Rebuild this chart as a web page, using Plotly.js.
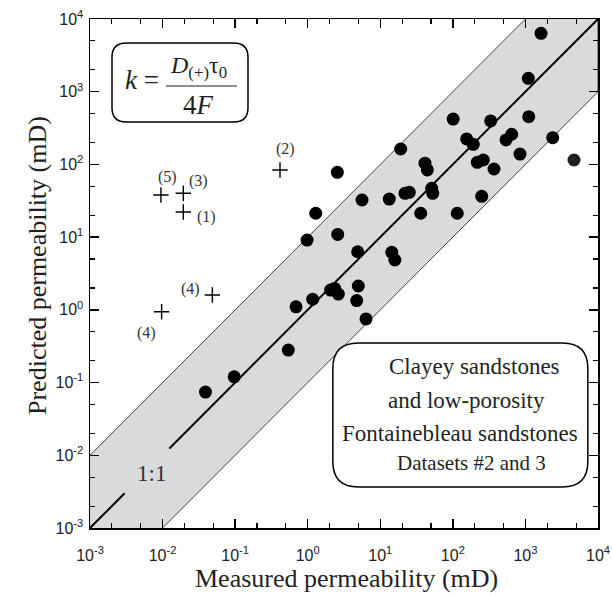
<!DOCTYPE html>
<html>
<head>
<meta charset="utf-8">
<script src="https://cdn.plot.ly/plotly-3.0.1.min.js"></script>
<style>html,body{margin:0;padding:0;background:#fff;}#plot{width:612px;height:597px;}</style>
</head>
<body>
<div id="plot"></div>
<script>
// Measured (x) vs predicted (y) permeability, mD — filled circles
const measured = [1640, 1096, 101, 332, 1110, 155, 191, 540, 647, 2376, 19.1, 41.3, 44.5, 217, 263, 369, 842,
  2.56, 5.6, 13.3, 21.9, 25.1, 51.1, 52.8, 250, 1.29, 36.1, 115, 0.98, 2.59, 4.88, 14.4, 15.9,
  2.07, 2.35, 2.64, 4.98, 1.17, 4.73, 0.69, 6.36, 0.54, 0.097, 0.039];
const predicted = [6357, 1529, 421, 396, 453, 224, 189, 217, 260, 233, 163, 104, 84, 107, 115, 86.5, 139,
  77.9, 32.4, 33.4, 40.1, 41.4, 46.9, 40.1, 36.4, 21.3, 21.3, 21.3, 9.1, 10.9, 6.3, 6.18, 4.85,
  1.87, 1.97, 1.65, 2.13, 1.40, 1.34, 1.10, 0.75, 0.28, 0.12, 0.074];
// the one dark-grey point at the far right
const measuredGrey = [4670];
const predictedGrey = [115];
// outliers drawn as crosses
const crossMeasured = [0.0193, 0.415, 0.0193, 0.0485, 0.0097, 0.0095];
const crossPredicted = [22.2, 83.8, 40.1, 1.6, 0.94, 38];
const crossLabels = ['(1)', '(2)', '(3)', '(4)', '(4)', '(5)'];
const crossLabelX = [0.0397, 0.497, 0.0311, 0.0239, 0.00604, 0.0116];
const crossLabelY = [19.1, 163, 59.2, 1.93, 0.476, 67.8];
// axis ticks
const tickExponents = [-3, -2, -1, 0, 1, 2, 3, 4];
const tickVals = tickExponents.map(e => Math.pow(10, e));
const tickText = tickExponents.map(e => '10<sup>' + e + '</sup>');
// 1:1 reference line and one-decade band
const axisMin = 1e-3, axisMax = 1e4, bandFactor = 10;
const lineBreak = [0.003, 0.0124];

const bandX = [axisMin, axisMax, axisMax, axisMin];
const bandY = [axisMin * bandFactor, axisMax * bandFactor, axisMax / bandFactor, axisMin / bandFactor];

const serif = 'Liberation Serif, Times New Roman, serif';
const sans = 'Liberation Sans, Arial, sans-serif';
const ink = '#231f20';

const traces = [
  {x: bandX, y: bandY, mode: 'lines', fill: 'toself', fillcolor: '#d9dadb',
   line: {color: '#333', width: 0.9}, hoverinfo: 'skip', showlegend: false},
  {x: [axisMin, lineBreak[0], null, lineBreak[1], axisMax], y: [axisMin, lineBreak[0], null, lineBreak[1], axisMax],
   mode: 'lines', line: {color: '#000', width: 2}, showlegend: false, connectgaps: false},
  {x: measured, y: predicted, mode: 'markers', marker: {color: '#000', size: 13}, showlegend: false},
  {x: measuredGrey, y: predictedGrey, mode: 'markers', marker: {color: '#231f20', size: 13}, showlegend: false},
  {x: crossMeasured, y: crossPredicted, mode: 'markers',
   marker: {symbol: 'cross-thin', size: 11, line: {color: '#000', width: 1.4}}, showlegend: false}
];

const annotations = crossLabels.map((t, i) => ({
  x: Math.log10(crossLabelX[i]), y: Math.log10(crossLabelY[i]), xref: 'x', yref: 'y',
  text: t, showarrow: false, font: {family: serif, size: 16, color: '#333'}
}));
annotations.push({x: Math.log10(0.0071), y: Math.log10(0.0056), xref: 'x', yref: 'y', text: '1:1',
  showarrow: false, font: {family: serif, size: 23, color: '#333'}});

function pap(px, py) { return {x: (px - 90) / 508, y: (528 - py) / 509}; }
function paperText(px, py, text, size, angle) {
  const p = pap(px, py);
  return {x: p.x, y: p.y, xref: 'paper', yref: 'paper', xanchor: 'center', yanchor: 'middle',
    text: text, showarrow: false, textangle: angle || 0, font: {family: serif, size: size, color: ink}};
}
// axis titles
annotations.push(paperText(346, 578, 'Measured permeability (mD)', 26));
annotations.push(paperText(37, 266, 'Predicted permeability (mD)', 26, -90));
// formula
annotations.push(paperText(142, 80, '<i>k</i> =', 27));
annotations.push(paperText(198, 67, '<i>D</i><sub>(+)</sub>τ<sub>0</sub>', 24));
annotations.push(paperText(198, 105, '4<i>F</i>', 27));
// info box text
const boxLines = ['Clayey sandstones', 'and low-porosity', 'Fontainebleau sandstones', 'Datasets #2 and 3'];
const boxLineX = [474, 466, 460, 471];
const boxLineY = [366, 400, 433, 463];
const boxLineSize = [23, 23, 23, 21];
boxLines.forEach((t, i) => annotations.push(paperText(boxLineX[i], boxLineY[i], t, boxLineSize[i])));

function roundRect(x0, y0, x1, y1, r) {
  return `M ${x0 + r},${y0} L ${x1 - r},${y0} Q ${x1},${y0} ${x1},${y0 + r} L ${x1},${y1 - r} Q ${x1},${y1} ${x1 - r},${y1} ` +
         `L ${x0 + r},${y1} Q ${x0},${y1} ${x0},${y1 - r} L ${x0},${y0 + r} Q ${x0},${y0} ${x0 + r},${y0} Z`;
}

const shapes = [
  {type: 'path', xref: 'paper', yref: 'paper', path: roundRect(0.0433, 0.7976, 0.311, 0.9528, 0.028),
   line: {color: '#000', width: 1.5}, fillcolor: 'white'},
  {type: 'line', xref: 'paper', yref: 'paper', x0: 0.1496, x1: 0.2894, y0: 0.8684, y1: 0.8684,
   line: {color: ink, width: 1.2}},
  {type: 'path', xref: 'paper', yref: 'paper', path: roundRect(0.478, 0.0806, 0.980, 0.3635, 0.05),
   line: {color: '#000', width: 1.5}, fillcolor: 'white'}
];

const axisCommon = {
  type: 'log', range: [-3, 4], tickmode: 'array', tickvals: tickVals, ticktext: tickText,
  showgrid: false, zeroline: false, showline: true, linecolor: '#000', linewidth: 1.5, mirror: 'allticks',
  ticks: 'inside', ticklen: 9, tickwidth: 1.5, tickcolor: '#000', layer: 'above traces',
  minor: {ticks: 'inside', ticklen: 5, tickwidth: 1.2, tickcolor: '#000'},
  tickfont: {family: sans, size: 16, color: '#222'}
};

const layout = {
  width: 612, height: 597,
  margin: {l: 90, r: 14, t: 19, b: 69},
  paper_bgcolor: 'white', plot_bgcolor: 'white',
  showlegend: false,
  xaxis: Object.assign({}, axisCommon, {ticklabelstandoff: 12}),
  yaxis: Object.assign({}, axisCommon, {ticklabelstandoff: 2}),
  annotations: annotations,
  shapes: shapes
};

Plotly.newPlot('plot', traces, layout, {displayModeBar: false, staticPlot: true});
</script>
</body>
</html>
